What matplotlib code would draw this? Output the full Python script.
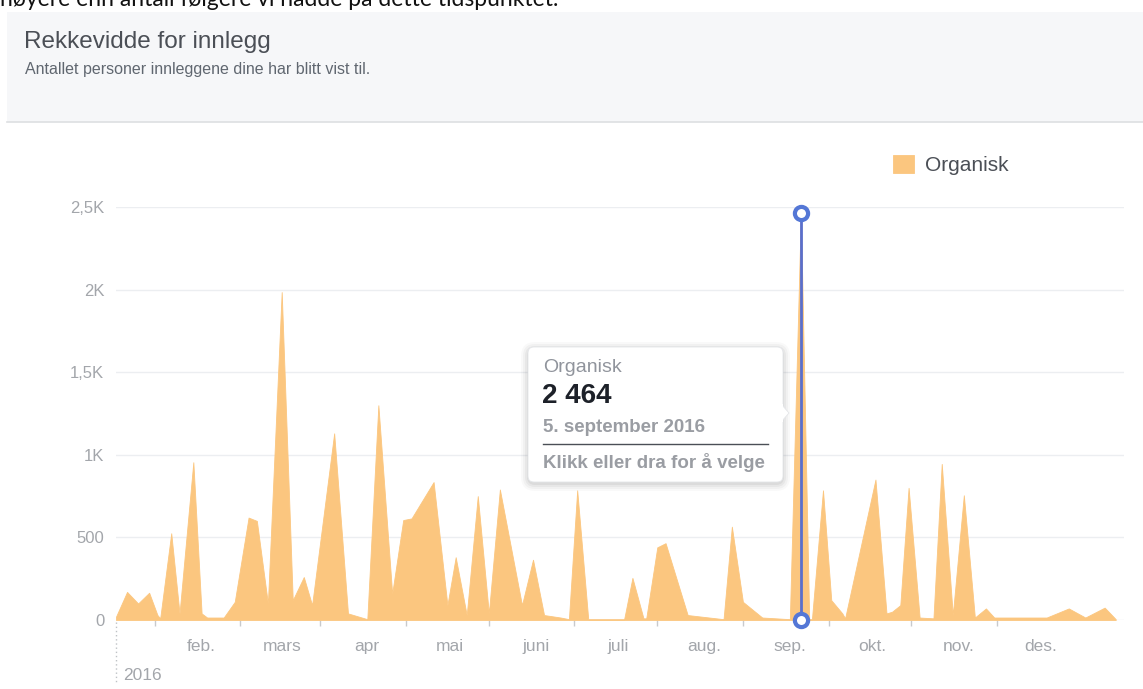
import matplotlib
matplotlib.use("Agg")
import matplotlib.pyplot as plt
from matplotlib.patches import FancyBboxPatch, Rectangle, Polygon
from matplotlib.lines import Line2D
import pandas as pd

plt.rcParams['font.family'] = ['Liberation Sans', 'DejaVu Sans']

# rekkevidde per dag, lest av bildet
dates = ['2016-01-01', '2016-01-05', '2016-01-09', '2016-01-13', '2016-01-16', '2016-01-17',
         '2016-01-21', '2016-01-24', '2016-01-29', '2016-02-01', '2016-02-03', '2016-02-09',
         '2016-02-13', '2016-02-18', '2016-02-21', '2016-02-25', '2016-03-01', '2016-03-05',
         '2016-03-09', '2016-03-12', '2016-03-20', '2016-03-25', '2016-03-29', '2016-04-01',
         '2016-04-05', '2016-04-10', '2016-04-14', '2016-04-17', '2016-04-25', '2016-04-30',
         '2016-05-03', '2016-05-07', '2016-05-11', '2016-05-15', '2016-05-19', '2016-05-27',
         '2016-05-31', '2016-06-04', '2016-06-10', '2016-06-13', '2016-06-16', '2016-06-20',
         '2016-07-03', '2016-07-06', '2016-07-10', '2016-07-11', '2016-07-15', '2016-07-18',
         '2016-07-26', '2016-08-08', '2016-08-11', '2016-08-15', '2016-08-22', '2016-09-01',
         '2016-09-05', '2016-09-08', '2016-09-09', '2016-09-13', '2016-09-16', '2016-09-20',
         '2016-09-21', '2016-10-02', '2016-10-06', '2016-10-08', '2016-10-11', '2016-10-14',
         '2016-10-18', '2016-10-23', '2016-10-26', '2016-10-30', '2016-11-03', '2016-11-07',
         '2016-11-11', '2016-11-14', '2016-12-03', '2016-12-11', '2016-12-17', '2016-12-24',
         '2016-12-28']
reach = [20, 170, 100, 165, 30, 10,
         525, 40, 955, 40, 15, 15,
         110, 620, 600, 100, 1985, 120,
         260, 90, 1130, 40, 20, 5,
         1300, 160, 605, 615, 835, 90,
         380, 30, 750, 40, 790, 90,
         365, 30, 15, 5, 785, 5,
         5, 255, 10, 10, 440, 465,
         30, 5, 565, 110, 15, 5,
         2464, 5, 5, 785, 120, 40,
         10, 850, 40, 50, 90, 800,
         15, 10, 945, 30, 755, 15,
         70, 15, 15, 70, 15, 75,
         5]

month_starts = ['2016-02-01', '2016-03-01', '2016-04-01', '2016-05-01', '2016-06-01', '2016-07-01',
                '2016-08-01', '2016-09-01', '2016-10-01', '2016-11-01', '2016-12-01']
month_labels = ['feb.', 'mars', 'apr', 'mai', 'juni', 'juli', 'aug.', 'sep.', 'okt.', 'nov.', 'des.']
y_ticks = [0, 500, 1000, 1500, 2000, 2500]
y_labels = ['0', '500', '1K', '1,5K', '2K', '2,5K']

sel_date = '2016-09-05'
sel_value = 2464

W, H = 1143, 689
orange = '#fbc67f'
blue = '#5477d6'
tick_grey = '#a3a6ab'

x = pd.to_datetime(dates)

fig = plt.figure(figsize=(W / 100, H / 100), dpi=100)
fig.patch.set_facecolor('white')

ax = fig.add_axes([116 / W, 1 - 620 / H, 1008 / W, 413 / H])
ax.fill_between(x, 0, reach, color=orange, lw=0.6, edgecolor=orange, label='Organisk', zorder=2)
ax.set_xlim(pd.Timestamp('2016-01-01'), pd.Timestamp('2016-12-31'))
ax.set_ylim(0, 2500)
for s in ax.spines.values():
    s.set_visible(False)
for v in y_ticks:
    ax.axhline(v, color='#eceef1', lw=1, zorder=1)

ax.set_yticks(y_ticks)
ax.set_yticklabels(y_labels)
ax.tick_params(axis='y', length=0, pad=8.5, labelsize=12, labelcolor=tick_grey)

ax.set_xticks(pd.to_datetime(month_starts))
ax.set_xticklabels(month_labels)
ax.set_xticks(pd.date_range('2016-01-01', '2016-11-01', freq='MS') + pd.Timedelta(days=14), minor=True)
ax.tick_params(axis='x', which='major', length=0, pad=14, labelsize=12.5, labelcolor=tick_grey)
ax.tick_params(axis='x', which='minor', length=4.5, width=1, color='#c8cacd')

# valgt punkt
sel = pd.Timestamp(sel_date)
ax.plot([sel, sel], [0, sel_value], color='#5a6fcc', lw=2, zorder=4, clip_on=False)
ax.plot([sel, sel], [0, sel_value], 'o', ms=9.5, mfc='white', mec=blue, mew=3,
        zorder=5, clip_on=False)

leg = ax.legend(loc='center left', bbox_to_anchor=(893 / W, 1 - 165 / H),
                bbox_transform=fig.transFigure, frameon=False, fontsize=15,
                handlelength=1.0, handleheight=1.0, handletextpad=0.55,
                borderpad=0, borderaxespad=0)
for t in leg.get_texts():
    t.set_color('#4b4f56')

# overlegg i pikselkoordinater
ov = fig.add_axes([0, 0, 1, 1], zorder=10)
ov.set_xlim(0, W)
ov.set_ylim(H, 0)
ov.axis('off')
ov.patch.set_alpha(0)

ov.text(0, 6, 'høyere enn antall følgere vi hadde på dette tidspunktet.', fontsize=16.5,
        family=['Lato', 'DejaVu Sans'], color='#111111', va='baseline', ha='left')

ov.add_patch(Rectangle((7, 12), W - 7, 110, facecolor='#f6f7f9', edgecolor='none'))
ov.add_line(Line2D([7, W], [122, 122], color='#dddfe2', lw=1.2))
ov.text(24, 48, 'Rekkevidde for innlegg', fontsize=17.5, color='#4b4f56', va='baseline')
ov.text(25, 74, 'Antallet personer innleggene dine har blitt vist til.', fontsize=11.5,
        color='#606770', va='baseline')

# år-markering
ov.add_line(Line2D([116, 116], [622, 684], color='#bfc2c6', lw=1, ls=(0, (1, 2))))
ov.text(123, 676, '2016', fontsize=12.5, color=tick_grey, va='center')

# tooltip
for i, a in enumerate([0.025, 0.03, 0.04, 0.05]):
    p = 8 - 2 * i
    ov.add_patch(FancyBboxPatch((528 - p + 1, 347 - p + 3), 255 + 2 * p - 2, 135 + 2 * p - 2,
                                boxstyle='round,pad=0,rounding_size=%d' % (6 + p),
                                facecolor='#000000', edgecolor='none', alpha=a))
ov.add_patch(FancyBboxPatch((528, 347), 255, 135, boxstyle='round,pad=0,rounding_size=6',
                            facecolor='white', edgecolor='#e4e6e9', lw=0.6))
ov.add_patch(Polygon([[782, 405], [789, 413], [782, 421]], closed=True,
                     facecolor='white', edgecolor='#e4e6e9', lw=0.6))
ov.add_patch(Rectangle((780, 404), 3, 18, facecolor='white', edgecolor='none'))
ov.text(543, 367, 'Organisk', fontsize=14, color='#90949c', va='center')
ov.text(542, 396, '2 464', fontsize=20, fontweight='bold', color='#1d2129', va='center')
ov.text(543, 427, '5. september 2016', fontsize=13.5, fontweight='bold', color='#9a9da3',
        va='center')
ov.add_line(Line2D([543, 768], [444, 444], color='#4b4f56', lw=1))
ov.text(543, 463, 'Klikk eller dra for å velge', fontsize=13.5, fontweight='bold',
        color='#9a9da3', va='center')

fig.savefig('out.png', dpi=100)
